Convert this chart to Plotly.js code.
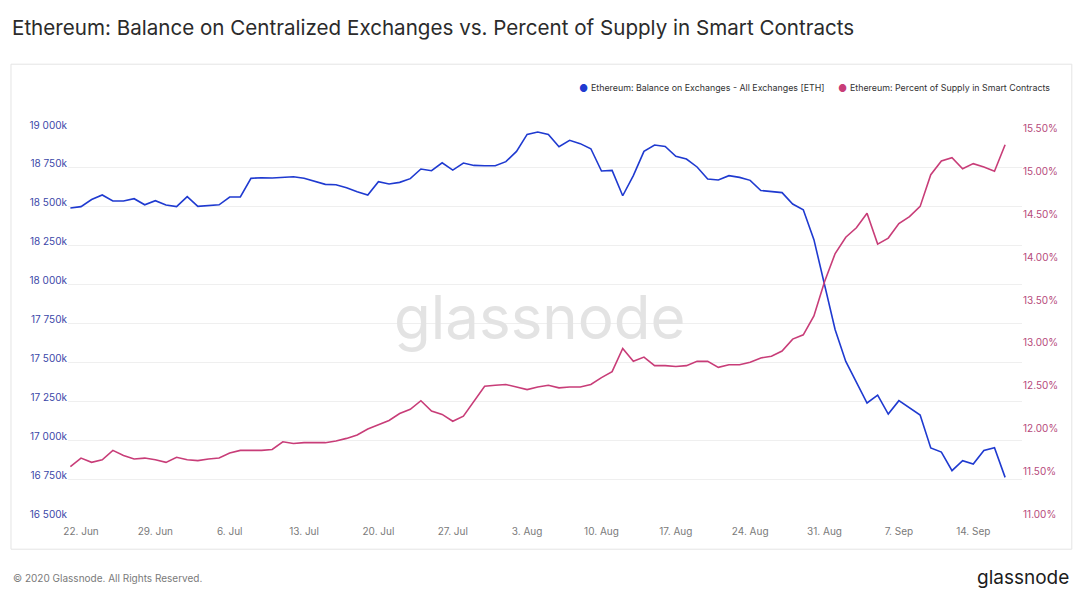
<!DOCTYPE html>
<html>
<head>
<meta charset="utf-8">
<script src="https://cdn.plot.ly/plotly-3.0.1.min.js"></script>
<style>html,body{margin:0;padding:0;background:#fff;}#chart{width:1080px;height:597px;}</style>
</head>
<body>
<div id="chart"></div>
<script>
// ---- data ----
const startDate = '2020-06-21'; // first daily observation
// Balance on exchanges, thousands of ETH (daily, Jun 21 - Sep 17 2020)
const balanceK = [
  18492,18501,18547,18576,18537,18537,18552,18513,18539,18512,
  18501,18565,18503,18507,18513,18563,18563,18683,18687,18685,
  18687,18693,18683,18663,18644,18642,18623,18597,18576,18661,
  18647,18657,18681,18743,18732,18783,18736,18781,18766,18764,
  18764,18790,18856,18965,18981,18965,18886,18927,18906,18873,
  18730,18734,18571,18700,18856,18897,18888,18824,18807,18756,
  18679,18672,18700,18689,18670,18605,18597,18591,18518,18481,
  18289,17999,17710,17506,17371,17239,17290,17168,17254,17209,
  17162,16950,16924,16804,16868,16847,16934,16952,16761
];
// Percent of supply in smart contracts (%)
const smartPct = [
  11.60,11.70,11.65,11.68,11.79,11.73,11.69,11.70,11.68,11.65,
  11.71,11.68,11.67,11.69,11.70,11.76,11.79,11.79,11.79,11.80,
  11.89,11.87,11.88,11.88,11.88,11.90,11.93,11.97,12.04,12.09,
  12.14,12.22,12.27,12.37,12.25,12.21,12.13,12.19,12.36,12.54,
  12.55,12.56,12.53,12.50,12.53,12.55,12.52,12.53,12.53,12.56,
  12.64,12.71,12.98,12.83,12.88,12.78,12.78,12.77,12.78,12.83,
  12.83,12.76,12.79,12.79,12.82,12.87,12.89,12.95,13.09,13.14,
  13.36,13.76,14.09,14.28,14.39,14.56,14.20,14.27,14.44,14.52,
  14.64,15.01,15.17,15.21,15.08,15.14,15.10,15.05,15.36
];
const seriesNames = [
  'Ethereum: Balance on Exchanges - All Exchanges [ETH]',
  'Ethereum: Percent of Supply in Smart Contracts'
];
const titleText = 'Ethereum: Balance on Centralized Exchanges vs. Percent of Supply in Smart Contracts';
const footerText = '© 2020 Glassnode. All Rights Reserved.';
const brandText = 'glassnode';

// ---- build dates ----
const DAY = 86400000;
const t0 = Date.parse(startDate + 'T00:00:00Z');
function fmt(ms){
  const d = new Date(ms);
  const p = n => String(n).padStart(2,'0');
  return d.getUTCFullYear()+'-'+p(d.getUTCMonth()+1)+'-'+p(d.getUTCDate())+' '+p(d.getUTCHours())+':'+p(d.getUTCMinutes())+':'+p(d.getUTCSeconds());
}
const dates = balanceK.map((_, i) => fmt(t0 + i*DAY));

// ---- geometry ----
const W = 1080, H = 597;
const L = 68, R = 1021.7, T = 129.3, B = 518.3;
const PW = R - L, PH = B - T;
const px = x => (x - L) / PW;
const py = y => (B - y) / PH;
const tick22 = Date.parse('2020-06-22T00:00:00Z');
const xRange = [fmt(tick22 - 1.224*DAY), fmt(tick22 + 88.59*DAY)];

const BLUE = '#1f3ad0', PINK = '#c83d78';
const FONT = 'Inter, "Noto Sans", sans-serif';

const traces = [
  {x: dates, y: balanceK, type: 'scatter', mode: 'lines', name: seriesNames[0],
   line: {color: BLUE, width: 1.6}, yaxis: 'y', showlegend: false, hoverinfo: 'x+y'},
  {x: dates, y: smartPct, type: 'scatter', mode: 'lines', name: seriesNames[1],
   line: {color: PINK, width: 1.6}, yaxis: 'y2', showlegend: false, hoverinfo: 'x+y'}
];

const layout = {
  width: W, height: H, autosize: false,
  paper_bgcolor: '#ffffff', plot_bgcolor: 'rgba(0,0,0,0)',
  separators: '. ',
  margin: {l: L, r: W - R, t: T, b: H - B, pad: 0},
  font: {family: FONT, color: '#333'},
  title: {text: titleText, xref: 'container', yref: 'container', x: 12/W, xanchor: 'left',
          y: 1 - 28/H, yanchor: 'middle', font: {family: FONT, size: 20.6, color: '#2b2b2b'}},
  showlegend: false,
  xaxis: {type: 'date', range: xRange, showgrid: false, zeroline: false, showline: false,
          tick0: '2020-06-22', dtick: 7*DAY, tickformat: '%-d. %b',
          ticks: 'outside', ticklen: 4, tickcolor: 'rgba(0,0,0,0)',
          tickfont: {family: FONT, size: 10, color: '#7a7a7a'}},
  yaxis: {range: [16500, 19000], tick0: 16500, dtick: 250, tickformat: ',d', ticksuffix: 'k',
          showgrid: true, gridcolor: '#efefef', gridwidth: 1, zeroline: false, showline: false,
          ticklabelposition: 'outside', ticklabelshift: -4,
          tickfont: {family: FONT, size: 10, color: '#3b47a8'}},
  yaxis2: {overlaying: 'y', side: 'right', range: [11, 11 + PH/85.6], tick0: 11, dtick: 0.5,
           tickformat: '.2f', ticksuffix: '%', showgrid: false, zeroline: false, showline: false,
           ticklabelposition: 'outside', ticklabelshift: -4,
           tickfont: {family: FONT, size: 10, color: '#b64a7b'}},
  shapes: [
    {type: 'rect', xref: 'paper', yref: 'paper', x0: px(11), x1: px(1071.5), y0: py(549.5), y1: py(64.5),
     line: {color: '#e4e4e4', width: 1}, fillcolor: 'rgba(0,0,0,0)', layer: 'below'}
  ],
  annotations: [
    {text: brandText, xref: 'paper', yref: 'paper', x: px(540), y: py(317), xanchor: 'center', yanchor: 'middle',
     showarrow: false, font: {family: FONT, size: 60, color: '#e3e3e3'}},
    {text: '●', xref: 'paper', yref: 'paper', x: px(583), y: py(88), xanchor: 'center', yanchor: 'middle',
     showarrow: false, font: {family: FONT, size: 10, color: BLUE}},
    {text: seriesNames[0], xref: 'paper', yref: 'paper', x: px(589), y: py(88), xanchor: 'left', yanchor: 'middle',
     showarrow: false, font: {family: FONT, size: 8.85, color: '#333'}},
    {text: '●', xref: 'paper', yref: 'paper', x: px(842), y: py(88), xanchor: 'center', yanchor: 'middle',
     showarrow: false, font: {family: FONT, size: 10, color: PINK}},
    {text: seriesNames[1], xref: 'paper', yref: 'paper', x: px(848), y: py(88), xanchor: 'left', yanchor: 'middle',
     showarrow: false, font: {family: FONT, size: 8.85, color: '#333'}},
    {text: footerText, xref: 'paper', yref: 'paper', x: px(11), y: py(578), xanchor: 'left', yanchor: 'middle',
     showarrow: false, font: {family: FONT, size: 10, color: '#7a7a7a'}},
    {text: brandText, xref: 'paper', yref: 'paper', x: px(1071), y: py(578), xanchor: 'right', yanchor: 'middle',
     showarrow: false, font: {family: FONT, size: 19, color: '#1c1c1c'}}
  ]
};

Plotly.newPlot('chart', traces, layout, {displayModeBar: false, staticPlot: true});
</script>
</body>
</html>
